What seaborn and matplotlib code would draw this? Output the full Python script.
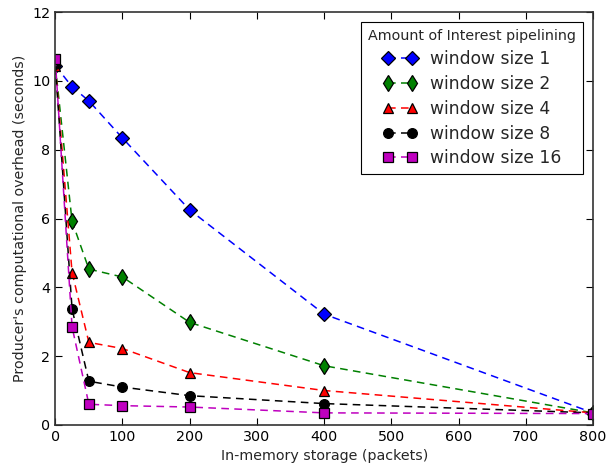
import numpy as np
import pandas as pd
import seaborn as sns
from matplotlib import pyplot as plt

# in-memory storage sizes (packets)
storage = [0, 25, 50, 100, 200, 400, 800]

# producer overhead (seconds) for each pipelining window
win1 = [10.45, 9.83, 9.42, 8.34, 6.25, 3.22, 0.35]
win2 = [10.45, 5.92, 4.53, 4.30, 2.98, 1.72, 0.35]
win4 = [10.45, 4.43, 2.40, 2.22, 1.52, 1.00, 0.35]
win8 = [10.48, 3.37, 1.27, 1.10, 0.85, 0.62, 0.35]
win16 = [10.65, 2.85, 0.60, 0.56, 0.52, 0.35, 0.33]

labels = ['window size 1', 'window size 2', 'window size 4', 'window size 8', 'window size 16']
series = [win1, win2, win4, win8, win16]
colors = ['b', 'g', 'r', 'k', 'm']
markers = ['D', 'd', '^', 'o', 's']
msizes = [7.5, 8, 7.5, 7, 7]

sns.set_style('ticks')
plt.rcParams['font.family'] = ['DejaVu Sans']
plt.rcParams['xtick.direction'] = 'in'
plt.rcParams['ytick.direction'] = 'in'
plt.rcParams['xtick.top'] = True
plt.rcParams['ytick.right'] = True

fig, ax = plt.subplots(figsize=(6.14, 4.69), dpi=100)
fig.subplots_adjust(left=0.09, right=0.966, top=0.974, bottom=0.094)

for vals, lab, c, m, ms in zip(series, labels, colors, markers, msizes):
    df = pd.DataFrame({'x': storage, 'y': vals})
    sns.lineplot(data=df, x='x', y='y', ax=ax, color=c, marker=m, markersize=ms,
                 markeredgecolor='k', markeredgewidth=0.9, linewidth=1.1,
                 label=lab)

# dashed connecting lines, drawn the way the old matplotlib did
for line in ax.lines:
    line.set_dashes((5, 3.5))

ax.set_xlim(0, 800)
ax.set_ylim(0, 12)
ax.set_xticks(range(0, 801, 100))
ax.set_yticks(range(0, 13, 2))
ax.tick_params(labelsize=10.3, length=5, width=0.8, color='k', labelcolor='k')
for s in ax.spines.values():
    s.set_color('#333333')
    s.set_linewidth(1.2)
ax.set_xlabel('In-memory storage (packets)', fontsize=10.3)
ax.set_ylabel("Producer's computational overhead (seconds)", fontsize=10.3)

leg = ax.legend(title='Amount of Interest pipelining', numpoints=2, fontsize=12.3,
                title_fontsize=10.3, loc='upper right', fancybox=False,
                edgecolor='k', framealpha=1, handlelength=2.0,
                labelspacing=0.4, borderaxespad=0.6)
leg.get_frame().set_linewidth(0.8)

plt.savefig('out.png', dpi=100)
